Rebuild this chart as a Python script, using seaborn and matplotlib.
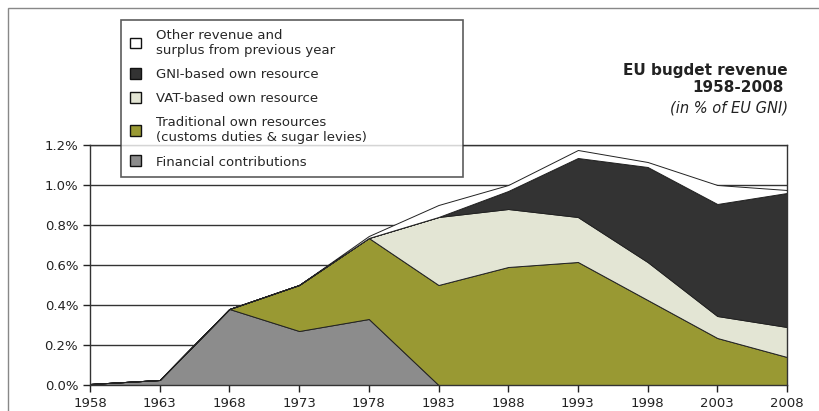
import numpy as np
import pandas as pd
import seaborn as sns
import matplotlib.pyplot as plt
from matplotlib.patches import Patch, Rectangle

# Data (in % of EU GNI)
years = [1958, 1963, 1968, 1973, 1978, 1983, 1988, 1993, 1998, 2003, 2008]
financial = [0.005, 0.025, 0.38, 0.27, 0.33, 0.0, 0.0, 0.0, 0.0, 0.0, 0.0]
traditional = [0.0, 0.0, 0.0, 0.23, 0.405, 0.50, 0.59, 0.615, 0.425, 0.235, 0.14]
vat = [0.0, 0.0, 0.0, 0.0, 0.0, 0.34, 0.29, 0.225, 0.19, 0.11, 0.15]
gni = [0.0, 0.0, 0.0, 0.0, 0.0, 0.0, 0.09, 0.295, 0.475, 0.56, 0.67]
other = [0.0, 0.0, 0.0, 0.0, 0.01, 0.06, 0.03, 0.04, 0.025, 0.095, 0.015]

labels = ["Financial contributions",
          "Traditional own resources\n(customs duties & sugar levies)",
          "VAT-based own resource",
          "GNI-based own resource",
          "Other revenue and\nsurplus from previous year"]
colors = ["#8c8c8c", "#999933", "#e3e5d4", "#333333", "#ffffff"]

df = pd.DataFrame({"year": years, "fin": financial, "trad": traditional,
                   "vat": vat, "gni": gni, "other": other})

sns.set_style("white")
plt.rcParams['font.family'] = ['DejaVu Sans']

fig = plt.figure(figsize=(8.19, 4.11), dpi=100)
ax = fig.add_axes([90 / 819, 1 - 385 / 411, 697 / 819, 240 / 411])

ax.stackplot(df["year"], df["fin"], df["trad"], df["vat"], df["gni"], df["other"],
             colors=colors, edgecolor="#222222", linewidth=0.7, zorder=2)

ax.set_xlim(1958, 2008)
ax.set_ylim(0, 1.2)
ax.set_xticks(years)
ax.set_yticks(np.arange(0, 1.21, 0.2))
ax.set_yticklabels([f"{v:.1f}%" for v in np.arange(0, 1.21, 0.2)])
ax.tick_params(axis="both", labelsize=9.5, colors="#222222", length=5, width=1,
               direction="out", left=True, bottom=True)
ax.yaxis.grid(True, color="#333333", linewidth=1)
ax.set_axisbelow(True)
for s in ax.spines.values():
    s.set_color("#333333")
    s.set_linewidth(1)

# legend box spans x 121..463, top at y 20 (pixels)
handles = [Patch(facecolor=c, edgecolor="#111111", linewidth=1) for c in colors]
leg = fig.legend(handles[::-1], labels[::-1], loc="upper left", mode="expand",
                 bbox_to_anchor=(121 / 819, 1 - 20 / 411, 342 / 819, 0.0),
                 borderaxespad=0, fontsize=9.5,
                 frameon=True, fancybox=False, borderpad=0.65, labelspacing=0.85,
                 handlelength=0.9, handleheight=0.9, handletextpad=1.1)
leg.get_frame().set_edgecolor("#333333")
leg.get_frame().set_linewidth(1.2)

fig.text(788 / 819, 1 - 70 / 411, "EU bugdet revenue", ha="right", va="center",
         fontsize=11, fontweight="bold", color="#222222")
fig.text(784 / 819, 1 - 88 / 411, "1958-2008", ha="right", va="center",
         fontsize=11, fontweight="bold", color="#222222")
fig.text(788 / 819, 1 - 108 / 411, "(in % of EU GNI)", ha="right", va="center",
         fontsize=10.5, style="italic", color="#222222")

fig.patches.append(Rectangle((8 / 819, -0.01), 1.0, 1 - 8 / 411 + 0.01,
                             transform=fig.transFigure, fill=False,
                             edgecolor="#888888", linewidth=1))

fig.savefig("out.png", dpi=100)
